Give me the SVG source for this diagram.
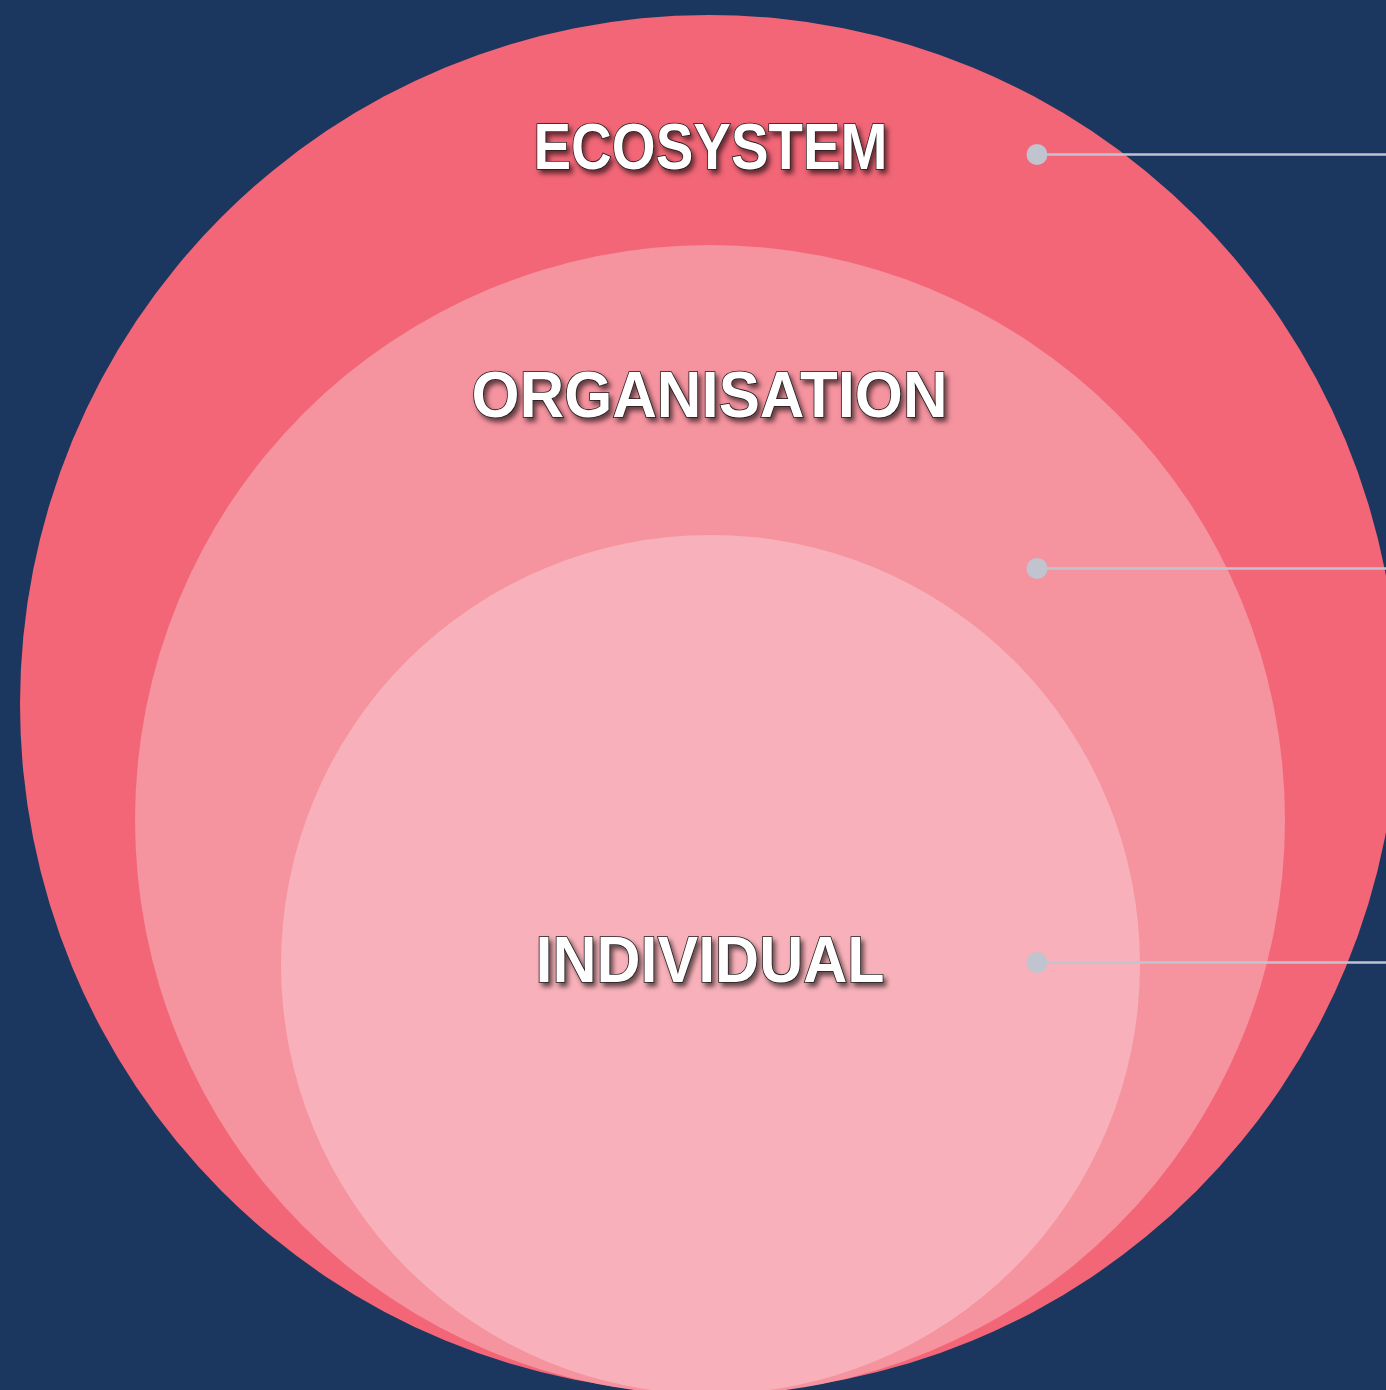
<svg xmlns="http://www.w3.org/2000/svg" width="1386" height="1390" viewBox="0 0 1386 1390">
  <defs>
    <filter id="shadow" x="-10%" y="-30%" width="120%" height="160%">
      <feDropShadow dx="3" dy="4" stdDeviation="2.5" flood-color="#000" flood-opacity="0.6"/>
    </filter>
  </defs>
  <style>
    .label { font-family: "Liberation Sans", Arial, sans-serif; font-size: 64px; font-weight: bold; fill: #ffffff; stroke: #1a1a1a; stroke-width: 1.6px; paint-order: stroke; text-anchor: middle; filter: url(#shadow); }
    .conn { stroke: #c0c4cf; stroke-width: 2.5; fill: none; }
    .dot { fill: #c0c4cf; }
  </style>
  <rect x="0" y="0" width="1386" height="1390" fill="#1b375f"/>
  <g id="ecosystem">
    <circle cx="709" cy="704" r="689" fill="#f26677"/>
  </g>
  <g id="organisation">
    <circle cx="710" cy="820" r="575" fill="#f5939f"/>
  </g>
  <g id="individual">
    <circle cx="710.5" cy="964.5" r="429.5" fill="#f8b1ba"/>
  </g>
  <g id="connectors">
    <line class="conn" x1="1037" y1="154.5" x2="1386" y2="154.5"/>
    <circle class="dot" cx="1037" cy="154.5" r="10.5"/>
    <line class="conn" x1="1037" y1="568.5" x2="1386" y2="568.5"/>
    <circle class="dot" cx="1037" cy="568.5" r="10.5"/>
    <line class="conn" x1="1037" y1="962.5" x2="1386" y2="962.5"/>
    <circle class="dot" cx="1037" cy="962.5" r="10.5"/>
  </g>
  <g id="labels">
    <text class="label" x="710.5" y="169" textLength="354" lengthAdjust="spacingAndGlyphs">ECOSYSTEM</text>
    <text class="label" x="709.5" y="417" textLength="476" lengthAdjust="spacingAndGlyphs">ORGANISATION</text>
    <text class="label" x="710" y="982" textLength="349" lengthAdjust="spacingAndGlyphs">INDIVIDUAL</text>
  </g>
</svg>
